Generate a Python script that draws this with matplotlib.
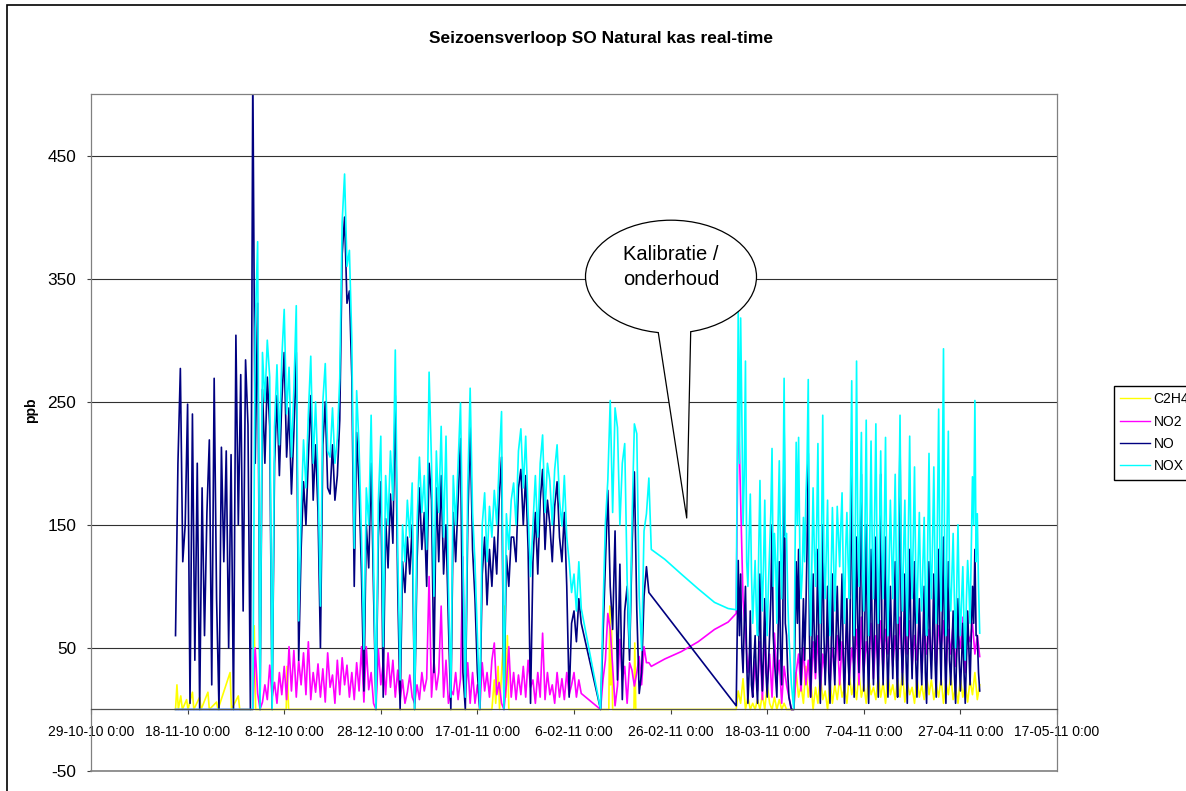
import numpy as np
import pandas as pd
import matplotlib
matplotlib.use("Agg")
import matplotlib.pyplot as plt
from matplotlib.patches import Ellipse, Polygon, Rectangle
from matplotlib.lines import Line2D

plt.rcParams['font.family'] = ['Liberation Sans', 'DejaVu Sans']
plt.rcParams['axes.unicode_minus'] = False

# ---- data (ppb) ----
# start time of each regularly logged block
seg1a_start = '2010-11-15 12:00'   # 12-hourly
seg1b_start = '2011-02-11 12:00'   # 12-hourly
seg2_start = '2011-03-12 00:00'    # 6-hourly (NOX, NO), 12-hourly (NO2, C2H4)

nox_1a = [
    0, 0, 0, 0, 0, 0, 0, 0, 0, 0, 0, 0, 0, 0, 0, 0, 0, 0, 0, 0,
    0, 0, 0, 0, 0, 0, 0, 0, 0, 0, 0, 0, 0, 310, 380, 0, 290, 250, 300, 270,
    0, 230, 280, 215, 285, 325, 240, 278, 205, 260, 328, 72, 160, 219, 180, 240, 287, 200, 250, 190,
    84, 250, 281, 210, 205, 245, 200, 220, 269, 396, 435, 360, 373, 300, 131, 259, 213, 140, 49, 180,
    150, 239, 120, 0, 170, 222, 51, 190, 150, 210, 170, 292, 130, 24, 150, 120, 170, 140, 184, 0,
    150, 205, 160, 190, 130, 274, 200, 92, 210, 160, 230, 140, 222, 100, 10, 190, 150, 200, 249, 120,
    10, 180, 261, 160, 119, 60, 0, 150, 176, 120, 165, 140, 178, 150, 200, 242, 0, 159, 130, 170,
    184, 150, 210, 228, 180, 222, 160, 108, 150, 190, 140, 200, 223, 160, 200, 186, 150, 195, 215, 170,
    149, 190, 140, 120, 95, 110, 80, 120, 82]
nox_1b = [0, 80, 151, 186, 251, 160, 245, 229, 150, 200, 216, 105, 50, 150, 232, 224, 92, 48, 145, 159, 188]
nox_2 = [
    324, 200, 318, 240, 150, 190, 283, 120, 100, 140, 175, 110, 70, 95, 121, 80, 60, 130, 186, 110,
    80, 120, 170, 90, 60, 100, 130, 160, 212, 100, 143, 120, 70, 150, 202, 130, 90, 160, 269, 140,
    143, 90, 60, 40, 21, 10, 0, 120, 217, 150, 221, 130, 90, 110, 156, 120, 170, 200, 268, 110,
    60, 120, 180, 130, 100, 150, 216, 100, 70, 140, 239, 120, 90, 130, 170, 90, 60, 110, 164, 120,
    80, 120, 165, 140, 116, 150, 176, 110, 70, 130, 160, 120, 90, 180, 267, 120, 60, 150, 283, 140,
    100, 160, 225, 110, 80, 150, 235, 120, 60, 140, 218, 130, 90, 160, 232, 120, 70, 140, 210, 130,
    90, 150, 221, 110, 60, 120, 170, 130, 90, 140, 191, 110, 70, 160, 239, 120, 80, 130, 170, 100,
    60, 150, 222, 130, 90, 140, 197, 110, 70, 120, 160, 100, 80, 120, 156, 90, 60, 140, 208, 120,
    90, 140, 197, 110, 70, 160, 244, 120, 80, 180, 293, 110, 60, 150, 226, 100, 80, 110, 143, 90,
    50, 100, 150, 90, 60, 90, 116, 70, 40, 90, 121, 100, 70, 130, 189, 150, 251, 120, 159, 100,
    62]

no_1a = [
    60, 200, 277, 120, 150, 248, 5, 240, 40, 200, 0, 180, 60, 160, 219, 20, 269, 90, 0, 213,
    120, 210, 50, 207, 0, 304, 150, 272, 80, 284, 231, 0, 520, 200, 330, 0, 260, 200, 270, 230,
    0, 200, 255, 190, 250, 290, 205, 245, 175, 225, 290, 40, 130, 185, 150, 205, 255, 170, 215, 160,
    50, 215, 250, 180, 175, 215, 170, 190, 235, 370, 400, 330, 340, 270, 100, 225, 180, 110, 15, 150,
    115, 200, 95, 0, 140, 185, 10, 155, 115, 175, 135, 255, 100, 0, 120, 95, 140, 110, 150, 0,
    120, 180, 130, 160, 100, 200, 170, 30, 180, 120, 190, 110, 150, 70, 0, 160, 120, 170, 220, 30,
    0, 150, 230, 130, 90, 30, 0, 110, 140, 85, 130, 100, 140, 110, 170, 205, 0, 125, 100, 140,
    140, 120, 180, 195, 150, 190, 130, 5, 120, 160, 110, 170, 195, 130, 170, 150, 120, 165, 185, 140,
    120, 160, 100, 10, 70, 80, 55, 90, 70]
no_1b = [0, 60, 120, 178, 100, 65, 145, 24, 118, 8, 80, 100, 40, 130, 193, 81, 13, 30, 92, 116, 95]
no_2 = [
    121, 60, 110, 50, 30, 70, 100, 40, 5, 30, 80, 20, 10, 40, 60, 25, 5, 50, 110, 40,
    15, 50, 90, 30, 10, 35, 60, 90, 150, 60, 40, 25, 10, 60, 120, 50, 20, 80, 235, 70,
    60, 30, 10, 5, 0, 0, 0, 60, 120, 70, 130, 50, 20, 50, 90, 40, 80, 130, 208, 60,
    10, 50, 110, 60, 30, 70, 130, 40, 5, 70, 150, 60, 20, 50, 100, 30, 5, 50, 110, 40,
    20, 60, 100, 60, 40, 70, 110, 40, 5, 50, 90, 40, 20, 110, 218, 60, 10, 70, 140, 70,
    30, 110, 191, 50, 15, 80, 150, 50, 5, 60, 130, 60, 20, 80, 140, 50, 10, 90, 191, 60,
    20, 70, 140, 50, 10, 50, 100, 60, 25, 70, 120, 40, 10, 120, 224, 60, 20, 60, 110, 40,
    5, 70, 130, 60, 25, 70, 120, 40, 10, 50, 90, 50, 20, 60, 100, 30, 5, 60, 120, 50,
    25, 60, 110, 40, 10, 70, 130, 60, 20, 80, 140, 50, 5, 60, 120, 40, 20, 50, 80, 30,
    5, 50, 90, 40, 15, 40, 70, 30, 5, 40, 80, 50, 20, 60, 100, 70, 130, 60, 60, 30,
    15]

no2_1a = [
    0, 0, 0, 0, 0, 0, 0, 0, 0, 0, 0, 0, 0, 0, 0, 0, 0, 0, 0, 0,
    0, 0, 0, 0, 0, 0, 0, 0, 0, 0, 0, 0, 0, 50, 13, 0, 6, 20, 8, 36,
    10, 22, 5, 30, 12, 35, 8, 51, 15, 48, 10, 40, 20, 46, 12, 55, 8, 30, 14, 37,
    10, 33, 6, 46, 18, 28, 5, 40, 12, 42, 20, 36, 10, 30, 8, 38, 15, 51, 6, 51,
    16, 30, 5, 0, 49, 20, 38, 12, 46, 18, 40, 10, 32, 8, 24, 5, 14, 28, 10, 5,
    20, 8, 30, 15, 25, 108, 10, 40, 16, 30, 84, 10, 40, 5, 16, 12, 30, 8, 25, 124,
    10, 38, 5, 30, 5, 20, 0, 38, 15, 30, 10, 40, 54, 12, 22, 5, 0, 20, 51, 10,
    30, 8, 28, 12, 35, 10, 40, 18, 24, 5, 30, 10, 62, 8, 30, 12, 20, 5, 30, 10,
    25, 8, 30, 12, 20, 30, 10, 24, 13]
no2_1b = [0, 24, 40, 78, 65, 35, 3, 19, 57, 24, 35, 5, 38, 32, 19, 30, 43, 20, 51, 38, 38]
no2_2 = [
    251, 170, 89, 62, 30, 50, 10, 40, 15, 55, 8, 60, 20, 45, 10, 62, 25, 40, 5, 35,
    20, 10, 0, 0, 30, 45, 15, 50, 20, 40, 10, 55, 25, 60, 15, 45, 30, 65, 20, 50,
    35, 60, 20, 55, 30, 70, 25, 50, 35, 65, 20, 75, 30, 55, 40, 70, 25, 60, 35, 72,
    30, 65, 45, 70, 35, 60, 40, 75, 30, 68, 45, 72, 35, 60, 40, 78, 30, 70, 45, 65,
    40, 75, 35, 68, 50, 72, 30, 65, 45, 70, 35, 60, 50, 75, 30, 62, 55, 70, 45, 60,
    43]

# the maintenance gap (Feb-Mar 2011), a few logged points only
gap_times = ['2011-02-22 00:00', '2011-02-24 19:00', '2011-02-28 05:00', '2011-03-03 17:00',
             '2011-03-07 02:00', '2011-03-09 22:00', '2011-03-11 14:00']
nox_gap = [130, 122, 110, 98, 87, 82, 81]
no2_gap = [35, 41, 47, 55, 65, 71, 78]
no_gap_times = ['2011-03-11 14:00']
no_gap = [3]

# C2H4: mostly zero until March, listed as individual points
c2h4_times_early = [
    '2010-11-15 12:00', '2010-11-15 19:00', '2010-11-16 02:00', '2010-11-16 14:00', '2010-11-16 22:00',
    '2010-11-17 19:00', '2010-11-18 02:00', '2010-11-19 00:00', '2010-11-19 07:00', '2010-11-20 12:00',
    '2010-11-20 19:00', '2010-11-22 05:00', '2010-11-22 12:00', '2010-11-24 00:00', '2010-11-24 07:00',
    '2010-11-26 19:00', '2010-11-27 02:00', '2010-11-28 12:00', '2010-11-28 19:00', '2010-12-01 12:00',
    '2010-12-01 19:00', '2010-12-02 02:00', '2010-12-08 10:00', '2010-12-08 14:00', '2010-12-08 22:00',
    '2011-01-20 00:00', '2011-01-20 12:00', '2011-01-20 19:00', '2011-01-21 07:00', '2011-01-21 14:00',
    '2011-01-22 07:00', '2011-01-22 14:00', '2011-01-22 22:00', '2011-01-23 05:00', '2011-01-23 12:00',
    '2011-02-07 12:00', '2011-02-11 12:00', '2011-02-13 05:00', '2011-02-13 10:00', '2011-02-13 14:00',
    '2011-02-13 19:00', '2011-02-14 00:00', '2011-02-18 10:00', '2011-02-18 14:00', '2011-02-18 19:00',
    '2011-03-11 14:00']
c2h4_early = [0, 20, 0, 11, 0, 8, 0, 14, 0, 10, 0, 14, 0, 6, 0, 30, 0, 11, 0, 0,
              68, 0, 0, 35, 0, 0, 24, 5, 35, 0, 50, 84, 10, 60, 0, 0, 0, 0, 84, 20,
              65, 0, 0, 54, 0, 0]
c2h4_2 = [
    15, 5, 25, 0, 10, 0, 5, 0, 8, 0, 12, 0, 20, 5, 0, 10, 0, 8, 0, 5,
    0, 0, 0, 0, 30, 10, 20, 5, 35, 10, 25, 0, 18, 5, 28, 8, 15, 0, 22, 5,
    20, 8, 25, 10, 18, 5, 28, 12, 22, 8, 30, 10, 20, 5, 25, 12, 18, 8, 27, 10,
    22, 5, 28, 12, 20, 8, 25, 10, 30, 6, 22, 12, 18, 5, 26, 10, 20, 8, 28, 12,
    24, 8, 20, 10, 26, 5, 22, 12, 28, 8, 18, 5, 25, 10, 20, 6, 24, 12, 30, 8,
    20]

tick_dates = ['2010-10-29', '2010-11-18', '2010-12-08', '2010-12-28', '2011-01-17', '2011-02-06',
              '2011-02-26', '2011-03-18', '2011-04-07', '2011-04-27', '2011-05-17']
tick_labels = ['29-10-10 0:00', '18-11-10 0:00', '8-12-10 0:00', '28-12-10 0:00', '17-01-11 0:00',
               '6-02-11 0:00', '26-02-11 0:00', '18-03-11 0:00', '7-04-11 0:00', '27-04-11 0:00',
               '17-05-11 0:00']


def block(start, vals, freq='12h'):
    return pd.date_range(start, periods=len(vals), freq=freq)


def join(parts):
    t = pd.DatetimeIndex(np.concatenate([np.asarray(pd.DatetimeIndex(p[0])) for p in parts]))
    v = np.concatenate([np.asarray(p[1], dtype=float) for p in parts])
    return t, v


t_c2h4, v_c2h4 = join([(c2h4_times_early, c2h4_early), (block(seg2_start, c2h4_2), c2h4_2)])
t_no2, v_no2 = join([(block(seg1a_start, no2_1a), no2_1a), (block(seg1b_start, no2_1b), no2_1b),
                     (gap_times, no2_gap), (block(seg2_start, no2_2), no2_2)])
t_no, v_no = join([(block(seg1a_start, no_1a), no_1a), (block(seg1b_start, no_1b), no_1b),
                   (no_gap_times, no_gap), (block(seg2_start, no_2, '6h'), no_2)])
t_nox, v_nox = join([(block(seg1a_start, nox_1a), nox_1a), (block(seg1b_start, nox_1b), nox_1b),
                     (gap_times, nox_gap), (block(seg2_start, nox_2, '6h'), nox_2)])

# ---- figure ----
W, H = 1186, 791
fig = plt.figure(figsize=(W / 100, H / 100), dpi=100)


def P(x, y):
    return (x / W, 1 - y / H)


ax = fig.add_axes([91 / W, 1 - 771 / H, (1057 - 91) / W, (771 - 94) / H])

lw = 1.2
ax.plot(t_c2h4, v_c2h4, color='#FFFF00', lw=lw, label='C2H4')
ax.plot(t_no2, v_no2, color='#FF00FF', lw=lw, label='NO2')
ax.plot(t_no, v_no, color='#000080', lw=lw, label='NO')
ax.plot(t_nox, v_nox, color='#00FFFF', lw=lw, label='NOX')

ax.set_ylim(-50, 500)
ax.set_yticks([-50, 50, 150, 250, 350, 450])
ax.set_xlim(pd.Timestamp(tick_dates[0]), pd.Timestamp(tick_dates[-1]))
ax.set_xticks(pd.to_datetime(tick_dates))
ax.set_xticklabels(tick_labels)

ax.grid(axis='y', color='#303030', lw=0.8)
ax.grid(axis='x', visible=False)
ax.set_axisbelow(True)
for s in ['left', 'right', 'top', 'bottom']:
    ax.spines[s].set_color('#808080')
    ax.spines[s].set_linewidth(0.9)
ax.spines['bottom'].set_position(('data', 0))
ax.spines['bottom'].set_color('#505050')
# lower edge of the plot area
ax.add_line(Line2D([0, 1], [0, 0], transform=ax.transAxes, color='#808080', lw=1.2, clip_on=False))

ax.tick_params(axis='x', direction='out', length=3.6, width=0.8, color='#404040', labelsize=10, pad=7.5)
ax.tick_params(axis='y', direction='out', length=2.9, width=0.8, color='#404040', labelsize=12.4, pad=7.8)

ax.set_ylabel('ppb', fontsize=10, fontweight='bold')
ax.yaxis.set_label_coords(-0.055, 0.533)

fig.text(*P(601, 43.3), 'Seizoensverloop SO Natural kas real-time', ha='center', va='baseline',
         fontsize=12.5, fontweight='bold')

leg = fig.legend(loc='upper left', bbox_to_anchor=P(1114, 386), borderaxespad=0, fancybox=False,
                 edgecolor='black', fontsize=10, handlelength=2.15, handletextpad=0.25,
                 labelspacing=0.6, borderpad=0.45, framealpha=1)
leg.get_frame().set_linewidth(1.0)
for h in leg.get_lines():
    h.set_linewidth(1.0)

# outer chart border
x0, y0 = P(7, 5)
fig.add_artist(Rectangle((x0, -0.1), 1.2, y0 + 0.1, transform=fig.transFigure, fill=False,
                         edgecolor='black', lw=1.2))

# callout
cx, cy = P(671, 276.7)
fig.add_artist(Ellipse((cx, cy), 171 / W, 113 / H, transform=fig.transFigure, facecolor='white',
                       edgecolor='black', lw=0.9, zorder=10))
fig.add_artist(Polygon([P(658.5, 325), P(658.5, 333), P(686.7, 518), P(691, 333), P(691, 325)],
                       closed=True, transform=fig.transFigure, facecolor='white', edgecolor='none',
                       zorder=11))
tail = [P(658.3, 332.7), P(686.7, 518), P(690.7, 331.7)]
fig.add_artist(Line2D([p[0] for p in tail], [p[1] for p in tail], transform=fig.transFigure,
                      color='black', lw=0.9, zorder=12))
fig.text(*P(671, 260), 'Kalibratie /', ha='center', va='baseline', fontsize=14.5, zorder=13)
fig.text(*P(671, 285), 'onderhoud', ha='center', va='baseline', fontsize=14.5, zorder=13)

fig.savefig('out.png', dpi=100)
